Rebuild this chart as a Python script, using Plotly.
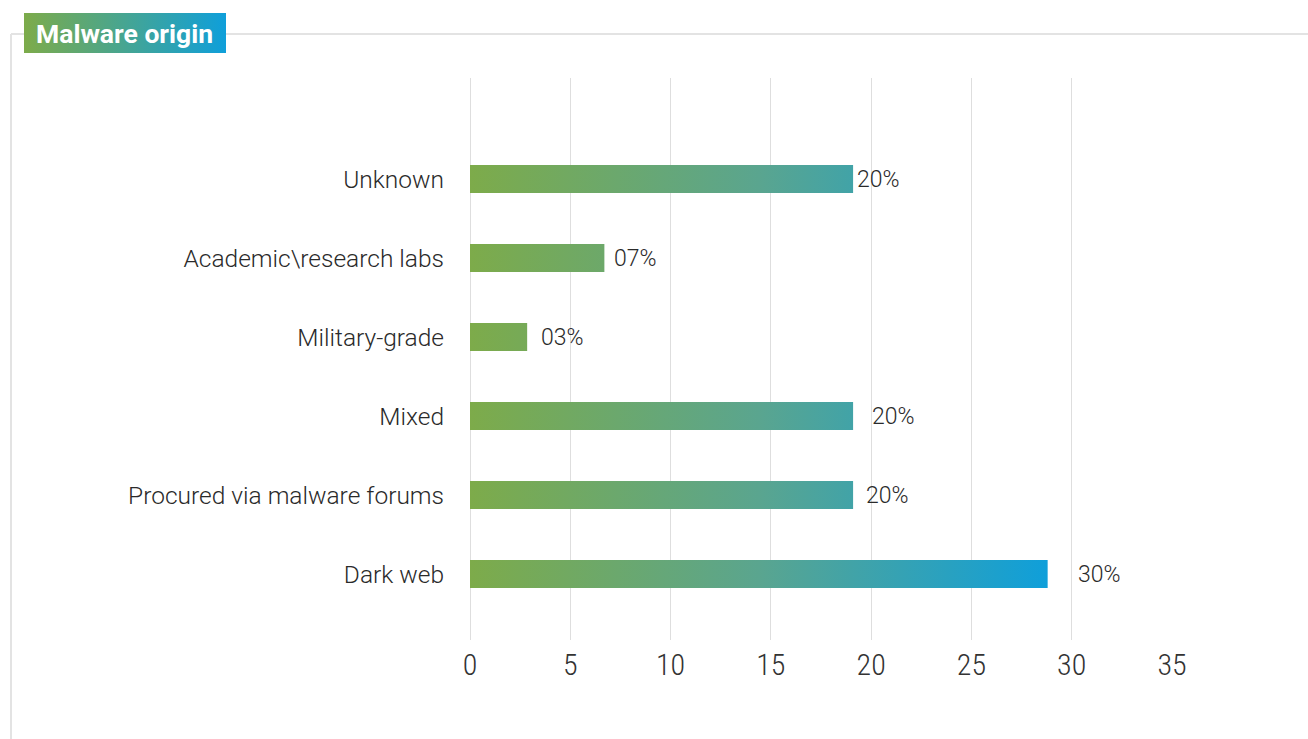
import plotly.graph_objects as go

# ---- data ----
categories = ["Dark web", "Procured via malware forums", "Mixed",
              "Military-grade", "Academic\\research labs", "Unknown"]
values = [28.8, 19.1, 19.1, 2.85, 6.7, 19.1]
value_labels = ["30%", "20%", "20%", "03%", "07%", "20%"]
x_ticks = [0, 5, 10, 15, 20, 25, 30, 35]
title_text = "Malware origin"

# ---- style ----
W, H = 1308, 739
GREEN = "#7dab4a"
BLUE = "#0f9fda"
label_shift = [30, 13, 19, 14, 10, 4]
bar_half = 0.177

fig = go.Figure()

grad_stop = max(values)
for i, (cat, v) in enumerate(zip(categories, values)):
    fig.add_trace(go.Scatter(
        x=[0, v, v, 0, 0],
        y=[i - bar_half, i - bar_half, i + bar_half, i + bar_half, i - bar_half],
        mode="lines", line=dict(width=0), fill="toself",
        fillgradient=dict(type="horizontal", start=0, stop=grad_stop,
                          colorscale=[[0, GREEN], [0.5, "#5aa58f"], [1, BLUE]]),
        hoverinfo="skip", showlegend=False, xaxis="x", yaxis="y"))

for i, (v, t) in enumerate(zip(values, value_labels)):
    fig.add_annotation(x=v, y=i, xref="x", yref="y", text=t, showarrow=False,
                       xanchor="left", yanchor="middle", xshift=label_shift[i] - 2,
                       font=dict(family="Roboto", size=23, color="#2a2a2a", weight=300))

# title badge on a separate pixel-space subplot
fig.add_trace(go.Scatter(
    x=[24, 226, 226, 24, 24], y=[13, 13, 53, 53, 13],
    mode="lines", line=dict(width=0), fill="toself",
    fillgradient=dict(type="horizontal", start=24, stop=226,
                      colorscale=[[0, GREEN], [1, BLUE]]),
    hoverinfo="skip", showlegend=False, xaxis="x2", yaxis="y2"))

fig.add_annotation(x=34, y=33, xref="x2", yref="y2", text=title_text, showarrow=False,
                   xanchor="left", yanchor="middle",
                   font=dict(family="Roboto", size=26.5, color="white", weight=700))

# frame lines
frame = dict(color="#e3e3e3", width=2)
fig.add_shape(type="line", xref="x2", yref="y2", x0=11, x1=1308, y0=34, y1=34, line=frame, layer="below")
fig.add_shape(type="line", xref="x2", yref="y2", x0=11, x1=11, y0=34, y1=739, line=frame, layer="below")

y_top = 5 + 101 / 79
y_bot = -66 / 79

fig.update_layout(
    width=W, height=H,
    margin=dict(l=0, r=0, t=0, b=0, autoexpand=False),
    paper_bgcolor="white", plot_bgcolor="rgba(0,0,0,0)",
    xaxis=dict(domain=[470 / W, 1172 / W], range=[0, 35], tickvals=x_ticks,
               showgrid=True, gridcolor="#dedede", gridwidth=1,
               zeroline=True, zerolinecolor="#dedede", zerolinewidth=1,
               showline=False, ticks="", ticklabelstandoff=4, automargin=False,
               anchor="y",
               tickfont=dict(family="Roboto Condensed, Liberation Sans Narrow, DejaVu Sans Condensed, Roboto",
                             size=30, color="#333333", weight=300)),
    yaxis=dict(domain=[1 - 640 / H, 1 - 78 / H], range=[y_bot, y_top],
               tickvals=list(range(len(categories))), ticktext=categories,
               showgrid=False, zeroline=False, showline=False, ticks="",
               ticklabelstandoff=25, automargin=False, anchor="x",
               tickfont=dict(family="Roboto", size=24.5, color="#2a2a2a", weight=300)),
    xaxis2=dict(domain=[0, 1], range=[0, W], visible=False, anchor="y2", fixedrange=True),
    yaxis2=dict(domain=[0, 1], range=[H, 0], visible=False, anchor="x2", fixedrange=True),
    showlegend=False,
)

fig.write_html("out.html")
